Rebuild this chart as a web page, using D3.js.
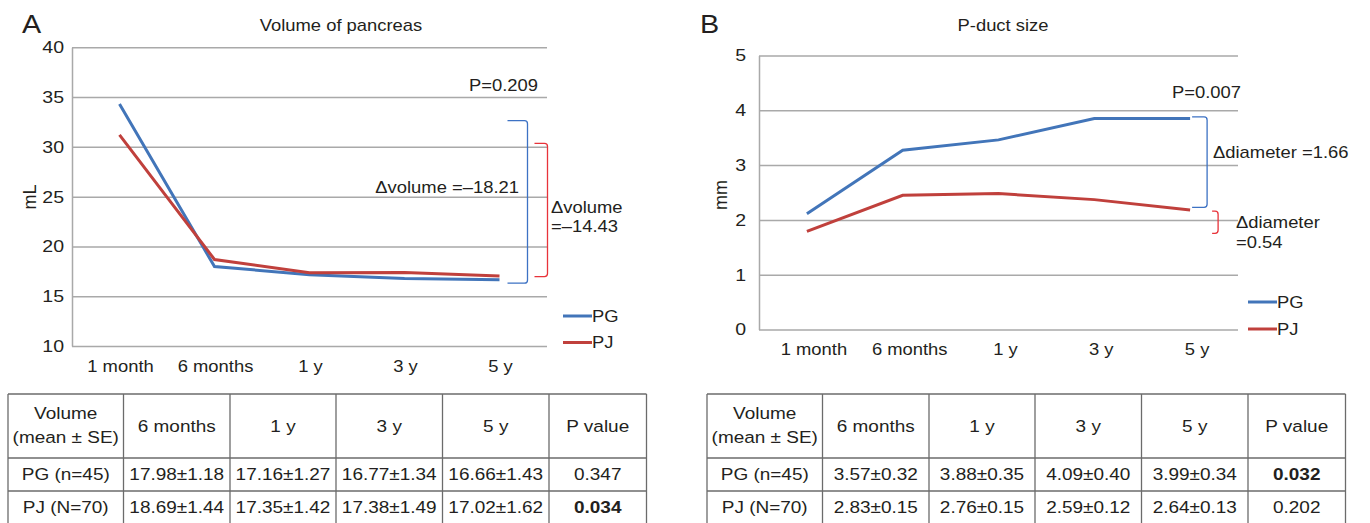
<!DOCTYPE html>
<html>
<head>
<meta charset="utf-8">
<title>Volume of pancreas and P-duct size</title>
<script src="https://d3js.org/d3.v7.min.js"></script>
<style>
  body { margin: 0; background: #fff; }
  text { font-family: "Liberation Sans", Arial, sans-serif; fill: #231f20; }
  /* the source figure is stretched a bit sideways */
  .sx { transform-box: fill-box; transform: scaleX(1.15); }
  .m { transform-origin: center; }
  .e { transform-origin: right center; }
  .s { transform-origin: left center; }
</style>
</head>
<body>
<script>
// ---- data ----
const categories = ["1 month", "6 months", "1 y", "3 y", "5 y"];
const seriesNames = ["PG", "PJ"];

const volumePG = [34.3, 17.98, 17.16, 16.77, 16.66];
const volumePJ = [31.2, 18.69, 17.35, 17.38, 17.02];
const volumeTicks = [10, 15, 20, 25, 30, 35, 40];

const ductPG = [2.11, 3.27, 3.46, 3.85, 3.85];
const ductPJ = [1.79, 2.45, 2.48, 2.37, 2.18];
const ductTicks = [0, 1, 2, 3, 4, 5];

// bracket spans (top, bottom) in data units
const volumeBracketPG = [32.63, 16.31];
const volumeBracketPJ = [30.36, 16.97];
const ductBracketPG = [3.88, 2.23];
const ductBracketPJ = [2.16, 1.755];

const tableHeader = ["6 months", "1 y", "3 y", "5 y", "P value"];
const rowLabels = ["PG (n=45)", "PJ (N=70)"];
const volumeTablePG = ["17.98±1.18", "17.16±1.27", "16.77±1.34", "16.66±1.43", "0.347"];
const volumeTablePJ = ["18.69±1.44", "17.35±1.42", "17.38±1.49", "17.02±1.62", "0.034"];
const ductTablePG = ["3.57±0.32", "3.88±0.35", "4.09±0.40", "3.99±0.34", "0.032"];
const ductTablePJ = ["2.83±0.15", "2.76±0.15", "2.59±0.12", "2.64±0.13", "0.202"];

const BLUE = "#4275b9";
const RED = "#c0403c";
const GRID = "#a9a9a9";

const svg = d3.select("body").append("svg")
    .attr("width", 1370)
    .attr("height", 523);

// write a text, stretched like the source
function label(g, str, x, y, anchor, size, weight) {
    const cls = anchor === "middle" ? "sx m" : (anchor === "end" ? "sx e" : "sx s");
    return g.append("text")
        .attr("class", cls)
        .attr("x", x).attr("y", y)
        .attr("text-anchor", anchor)
        .style("font-size", size + "px")
        .style("font-weight", weight || "normal")
        .text(str);
}

function bracketPath(x0, x1, yTop, yBot) {
    const r = 3;
    return "M" + x0 + "," + yTop + "H" + (x1 - r) + "Q" + x1 + "," + yTop + " " + x1 + "," + (yTop + r)
        + "V" + (yBot - r) + "Q" + x1 + "," + yBot + " " + (x1 - r) + "," + yBot + "H" + x0;
}

function drawPanel(c) {
    const g = svg.append("g");
    const x = d3.scaleBand().domain(categories).range(c.xRange);
    const y = d3.scaleLinear().domain(d3.extent(c.ticks)).range(c.yRange);
    const w = c.xRange[1] - c.xRange[0];

    // grid + left axis line
    const yAxis = g.append("g")
        .attr("transform", "translate(" + c.xRange[0] + ",0)")
        .call(d3.axisLeft(y).tickValues(c.ticks).tickFormat(d3.format("d"))
            .tickSize(-w).tickSizeOuter(0).tickPadding(c.tickPad));
    yAxis.select(".domain").attr("stroke", GRID).attr("stroke-width", 1.5);
    yAxis.selectAll(".tick line").attr("stroke", GRID).attr("stroke-width", 1.5);
    yAxis.selectAll(".tick text")
        .attr("class", "sx e")
        .style("font-size", c.tickSize + "px")
        .attr("fill", null);

    const xAxis = g.append("g")
        .attr("transform", "translate(0," + c.yRange[0] + ")")
        .call(d3.axisBottom(x).tickSize(0).tickPadding(c.xPad));
    xAxis.select(".domain").remove();
    xAxis.selectAll(".tick text")
        .attr("class", "sx m")
        .attr("dx", c.labelDx)
        .style("font-size", "16px")
        .attr("fill", null);
    svg.selectAll(".tick text").attr("font-family", null).attr("font-size", null);

    // lines
    const line = d3.line()
        .x((d, i) => x(categories[i]) + x.bandwidth() / 2)
        .y(d => y(d));
    [[c.pg, BLUE], [c.pj, RED]].forEach(([vals, col]) => {
        g.append("path")
            .datum(vals)
            .attr("d", line)
            .attr("fill", "none")
            .attr("stroke", col)
            .attr("stroke-width", 3);
    });

    // brackets
    const lastX = x(categories[categories.length - 1]) + x.bandwidth() / 2;
    g.append("path")
        .attr("d", bracketPath(lastX + c.bPG[0], lastX + c.bPG[1], y(c.brPG[0]), y(c.brPG[1])))
        .attr("fill", "none").attr("stroke", "#3d72c4").attr("stroke-width", 1.3);
    g.append("path")
        .attr("d", bracketPath(lastX + c.bPJ[0], lastX + c.bPJ[1], y(c.brPJ[0]), y(c.brPJ[1])))
        .attr("fill", "none").attr("stroke", "#e8333a").attr("stroke-width", 1.3);

    // legend
    seriesNames.forEach((name, i) => {
        const ly = c.legendY + i * c.legendGap;
        g.append("line")
            .attr("x1", c.legendX).attr("x2", c.legendX + 29)
            .attr("y1", ly).attr("y2", ly)
            .attr("stroke", i === 0 ? BLUE : RED).attr("stroke-width", 3);
        label(g, name, c.legendX + 29, ly + 6, "start", 16);
    });

    // titles
    label(g, c.letter, c.letterX, 33, "start", 25);
    label(g, c.title, c.titleX, 31, "middle", 16);
    g.append("text")
        .attr("transform", "translate(" + c.unitX + "," + c.unitY + ") rotate(-90)")
        .attr("text-anchor", "middle")
        .style("font-size", "18px")
        .text(c.unit);

    c.notes.forEach(n => label(g, n[0], n[1], n[2], n[3], 16));
}

drawPanel({
    letter: "A", letterX: 22, title: "Volume of pancreas", titleX: 341,
    xRange: [72, 547], yRange: [346, 47.3], ticks: volumeTicks,
    tickPad: 8, tickSize: 17, xPad: 15, labelDx: 1,
    pg: volumePG, pj: volumePJ,
    brPG: volumeBracketPG, brPJ: volumeBracketPJ, bPG: [8, 28], bPJ: [35, 48],
    legendX: 563, legendY: 316, legendGap: 26.5,
    unit: "mL", unitX: 36, unitY: 197,
    notes: [
        ["P=0.209", 538, 91, "end"],
        ["\u0394volume =\u201318.21", 519, 193, "end"],
        ["\u0394volume", 551, 213, "start"],
        ["=\u201314.43", 551, 232, "start"]
    ]
});

drawPanel({
    letter: "B", letterX: 700, title: "P-duct size", titleX: 1003,
    xRange: [759, 1238], yRange: [329.5, 55.5], ticks: ductTicks,
    tickPad: 13, tickSize: 17, xPad: 14, labelDx: 7,
    pg: ductPG, pj: ductPJ,
    brPG: ductBracketPG, brPJ: ductBracketPJ, bPG: [2, 17], bPJ: [22, 28],
    legendX: 1248, legendY: 302, legendGap: 27,
    unit: "mm", unitX: 727, unitY: 195,
    notes: [
        ["P=0.007", 1172, 98, "start"],
        ["\u0394diameter =1.66", 1213, 158, "start"],
        ["\u0394diameter", 1236, 228, "start"],
        ["=0.54", 1236, 248, "start"]
    ]
});

// ---- tables ----
function drawTable(x0, pgRow, pjRow, boldRow) {
    const colW = [115.5, 106.5, 106, 106.5, 106.5, 97.5];
    const rowH = [64, 33, 33];
    const top = 394;
    const g = svg.append("g");
    const xs = [x0];
    colW.forEach(wd => xs.push(xs[xs.length - 1] + wd));
    const ys = [top];
    rowH.forEach(h => ys.push(ys[ys.length - 1] + h));

    xs.forEach(xv => g.append("line").attr("x1", xv).attr("x2", xv).attr("y1", top).attr("y2", ys[3])
        .attr("stroke", "#6b6b6b").attr("stroke-width", 1.3));
    ys.forEach(yv => g.append("line").attr("x1", x0).attr("x2", xs[6]).attr("y1", yv).attr("y2", yv)
        .attr("stroke", "#6b6b6b").attr("stroke-width", 1.3));

    const cx = i => (xs[i] + xs[i + 1]) / 2;
    label(g, "Volume", cx(0), 419, "middle", 16.5);
    label(g, "(mean \u00b1 SE)", cx(0), 443, "middle", 16.5);
    tableHeader.forEach((h, i) => label(g, h, cx(i + 1), 432, "middle", 16.5));
    [pgRow, pjRow].forEach((row, r) => {
        const yy = (ys[r + 1] + ys[r + 2]) / 2 + 6;
        label(g, rowLabels[r], cx(0), yy, "middle", 16.5);
        row.forEach((v, i) => {
            const bold = (r === boldRow && i === row.length - 1) ? "bold" : "normal";
            label(g, v, cx(i + 1), yy, "middle", 16.5, bold);
        });
    });
}

drawTable(8, volumeTablePG, volumeTablePJ, 1);
drawTable(707, ductTablePG, ductTablePJ, 0);
</script>
</body>
</html>
